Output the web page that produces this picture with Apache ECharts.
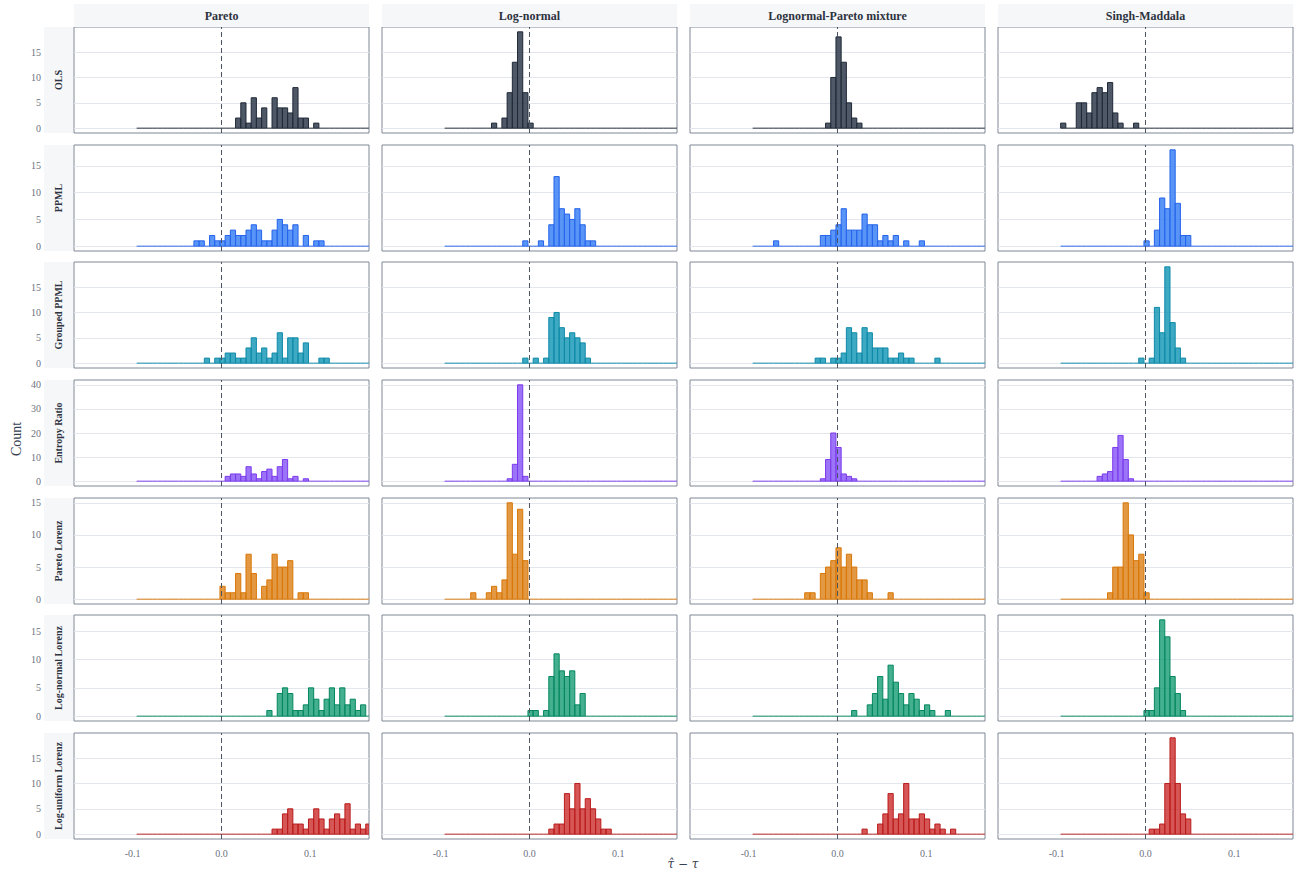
<!DOCTYPE html>
<html>
<head>
<meta charset="utf-8">
<title>Estimation error by method and distribution</title>
<script src="https://cdn.jsdelivr.net/npm/echarts@6/dist/echarts.min.js"></script>
<style>
  html, body { margin: 0; padding: 0; background: #fff; }
  #chart { width: 1300px; height: 873px; }
</style>
</head>
<body>
<div id="chart"></div>
<script>
// columns and rows of the facet grid
const distributions = ['Pareto', 'Log-normal', 'Lognormal-Pareto mixture', 'Singh-Maddala']
const methods = ['OLS', 'PPML', 'Grouped PPML', 'Entropy Ratio', 'Pareto Lorenz', 'Log-normal Lorenz', 'Log-uniform Lorenz']

// shared bins for every panel
const binStart = -0.0955
const binWidth = 0.00586
const binCount = 45

const xTicks = [-0.1, 0, 0.1]
const yTicksSmall = [0, 5, 10, 15]
const yTicksLarge = [0, 10, 20, 30, 40]

// index of first listed bin per distribution, then the counts from there
const olsStart = [19, 9, 14, 0]
const olsCounts = [
  [2, 5, 1, 6, 2, 4, 0, 6, 4, 4, 3, 8, 2, 2, 0, 1],
  [1, 0, 2, 7, 13, 19, 7, 1],
  [1, 10, 18, 13, 5, 2, 1],
  [1, 0, 0, 5, 5, 3, 7, 8, 7, 9, 3, 1, 0, 0, 1]
]
const ppmlStart = [11, 15, 4, 16]
const ppmlCounts = [
  [1, 1, 0, 2, 1, 1, 2, 3, 2, 2, 3, 4, 3, 1, 1, 3, 5, 4, 3, 4, 0, 2, 0, 1, 1],
  [1, 0, 0, 1, 0, 4, 13, 7, 6, 5, 7, 4, 1, 1],
  [1, 0, 0, 0, 0, 0, 0, 0, 0, 2, 2, 3, 4, 7, 3, 3, 3, 6, 4, 4, 1, 2, 1, 2, 0, 1, 0, 0, 1],
  [1, 0, 3, 9, 7, 18, 8, 2, 2]
]
const groupedStart = [13, 15, 12, 15]
const groupedCounts = [
  [1, 0, 1, 1, 2, 2, 1, 1, 3, 5, 2, 3, 1, 2, 6, 1, 5, 5, 2, 4, 0, 0, 1, 1],
  [1, 0, 1, 0, 1, 9, 10, 7, 5, 6, 5, 4, 1],
  [1, 1, 0, 1, 1, 2, 7, 6, 2, 7, 6, 3, 3, 3, 1, 1, 2, 1, 1, 0, 0, 0, 0, 1],
  [1, 0, 1, 11, 6, 19, 8, 3, 1]
]
const entropyStart = [17, 12, 13, 7]
const entropyCounts = [
  [2, 3, 3, 2, 6, 3, 1, 4, 5, 2, 6, 9, 1, 2, 0, 1],
  [1, 7, 40, 2],
  [1, 9, 20, 14, 3, 2, 1],
  [2, 3, 4, 14, 19, 9, 1]
]
const paretoLorenzStart = [16, 5, 10, 9]
const paretoLorenzCounts = [
  [2, 1, 1, 4, 1, 7, 4, 0, 2, 3, 7, 5, 5, 6, 0, 1, 1],
  [1, 0, 0, 1, 2, 1, 3, 15, 7, 14, 6],
  [1, 1, 0, 4, 5, 6, 8, 5, 7, 5, 3, 3, 1, 0, 0, 0, 1],
  [1, 5, 5, 15, 10, 6, 7, 1]
]
const lognormalLorenzStart = [25, 16, 19, 16]
const lognormalLorenzCounts = [
  [1, 0, 4, 5, 4, 1, 1, 2, 5, 3, 1, 3, 5, 2, 5, 2, 3, 1, 2, 0],
  [1, 1, 0, 1, 7, 11, 8, 7, 8, 2, 4],
  [1, 0, 0, 2, 4, 7, 3, 9, 6, 4, 2, 4, 3, 1, 2, 1, 0, 0, 1],
  [1, 1, 5, 17, 14, 7, 4, 1]
]
const loguniformLorenzStart = [26, 20, 21, 17]
const loguniformLorenzCounts = [
  [1, 1, 4, 5, 2, 2, 1, 3, 5, 3, 1, 3, 4, 3, 6, 1, 2, 1, 2],
  [1, 2, 2, 8, 5, 10, 5, 7, 5, 3, 1, 1],
  [1, 0, 0, 2, 4, 8, 3, 4, 10, 3, 3, 4, 3, 1, 2, 1, 0, 1],
  [1, 1, 2, 10, 19, 10, 4, 3]
]

const rowStarts = [olsStart, ppmlStart, groupedStart, entropyStart, paretoLorenzStart, lognormalLorenzStart, loguniformLorenzStart]
const rowCounts = [olsCounts, ppmlCounts, groupedCounts, entropyCounts, paretoLorenzCounts, lognormalLorenzCounts, loguniformLorenzCounts]
const rowYTicks = [yTicksSmall, yTicksSmall, yTicksSmall, yTicksLarge, yTicksSmall, yTicksSmall, yTicksSmall]

// one colour per method
const fillColors = [
  'rgba(55,65,81,0.88)', 'rgba(59,130,246,0.85)', 'rgba(8,145,178,0.78)', 'rgba(139,92,246,0.85)',
  'rgba(217,119,6,0.75)', 'rgba(5,150,105,0.75)', 'rgba(200,30,30,0.75)'
]
const edgeColors = ['#1f2937', '#2563eb', '#0e8aa8', '#7c3aed', '#d97706', '#05875f', '#b91c1c']

const serif = 'Liberation Serif'
const panelLeft = 74
const panelTop = 27
const panelW = 295
const panelH = 106
const colStep = 308
const rowStep = 117.67

// [left edge, right edge, count] for every bin
const binData = (start, counts) => {
  const out = []
  for (let b = 0; b < binCount; b++) {
    const k = b - start
    const n = k >= 0 && k < counts.length ? counts[k] : 0
    out.push([binStart + b * binWidth, binStart + (b + 1) * binWidth, n])
  }
  return out
}

const makeRender = (r) => (params, api) => {
  const x0 = api.value(0)
  const x1 = api.value(1)
  const n = api.value(2)
  const pTop = api.coord([x0, n])
  const pBot = api.coord([x1, 0])
  if (n === 0) {
    return {
      type: 'line',
      shape: { x1: pTop[0], y1: pBot[1], x2: pBot[0], y2: pBot[1] },
      style: { stroke: edgeColors[r], lineWidth: 1.2, opacity: 0.8 }
    }
  }
  return {
    type: 'rect',
    shape: { x: pTop[0], y: pTop[1], width: pBot[0] - pTop[0], height: pBot[1] - pTop[1] },
    style: { fill: fillColors[r], stroke: edgeColors[r], lineWidth: 1 }
  }
}

const grid = []
const xAxis = []
const yAxis = []
const series = []
const graphic = []

methods.forEach((method, r) => {
  const rowMax = Math.max(...rowCounts[r].flat())
  const top = Math.round(panelTop + r * rowStep)

  // row strip on the left
  graphic.push({ type: 'rect', left: 44, top, shape: { width: 29, height: panelH }, style: { fill: '#f6f7f9' }, silent: true })
  graphic.push({
    type: 'text', x: 58.5, y: top + panelH / 2, rotation: Math.PI / 2, silent: true,
    style: { text: method, align: 'center', verticalAlign: 'middle', fill: '#2d3340', font: 'bold 10px ' + serif }
  })

  distributions.forEach((dist, c) => {
    const i = r * distributions.length + c
    const left = panelLeft + c * colStep
    grid.push({ left, top, width: panelW, height: panelH, show: true, borderColor: '#7f8695', borderWidth: 1, backgroundColor: 'transparent' })
    xAxis.push({
      type: 'value', gridIndex: i, min: -0.166, max: 0.166,
      axisLine: { show: false }, axisTick: { show: false }, splitLine: { show: false },
      axisLabel: {
        show: r === methods.length - 1, customValues: xTicks, formatter: v => v.toFixed(1),
        color: '#6b7280', fontSize: 10, fontFamily: serif, margin: 9
      }
    })
    yAxis.push({
      type: 'value', gridIndex: i, min: -0.05 * rowMax, max: 1.05 * rowMax,
      axisLine: { show: false }, axisTick: { show: false }, splitLine: { show: false },
      axisLabel: {
        show: c === 0, customValues: rowYTicks[r], formatter: v => String(v),
        color: '#6b7280', fontSize: 10, fontFamily: serif, margin: 33
      }
    })
    // horizontal grid lines behind the bars
    series.push({
      type: 'line', xAxisIndex: i, yAxisIndex: i, data: [], silent: true,
      markLine: {
        silent: true, z: 0, symbol: 'none', label: { show: false },
        lineStyle: { color: '#e3e6ed', width: 1, type: 'solid' },
        data: rowYTicks[r].map(v => ({ yAxis: v }))
      }
    })
    series.push({
      type: 'custom', xAxisIndex: i, yAxisIndex: i, clip: true, silent: true,
      renderItem: makeRender(r),
      data: binData(rowStarts[r][c], rowCounts[r][c]),
      markLine: {
        silent: true, z: 5, symbol: 'none', label: { show: false },
        lineStyle: { color: '#4b5563', width: 1, type: [5, 3] },
        data: [{ xAxis: 0 }]
      }
    })
  })
})

// column headers
distributions.forEach((dist, c) => {
  const left = panelLeft + c * colStep
  graphic.push({ type: 'rect', left, top: 4, shape: { width: panelW, height: 23 }, style: { fill: '#f6f7f9' }, silent: true })
  graphic.push({
    type: 'text', x: left + panelW / 2, y: 15.5, silent: true,
    style: { text: dist, align: 'center', verticalAlign: 'middle', fill: '#2d3340', font: 'bold 12px ' + serif }
  })
})

// axis titles
graphic.push({
  type: 'text', x: 16, y: 439, rotation: Math.PI / 2, silent: true,
  style: { text: 'Count', align: 'center', verticalAlign: 'middle', fill: '#374151', font: '14px ' + serif }
})
graphic.push({
  type: 'text', x: 683, y: 864, silent: true,
  style: { text: 'τ\u0302 − τ', align: 'center', verticalAlign: 'middle', fill: '#374151', font: 'italic 12px DejaVu Serif' }
})

const chart = echarts.init(document.getElementById('chart'), null, { renderer: 'svg' })
chart.setOption({
  animation: false,
  backgroundColor: '#ffffff',
  grid,
  xAxis,
  yAxis,
  series,
  graphic
})
</script>
</body>
</html>
